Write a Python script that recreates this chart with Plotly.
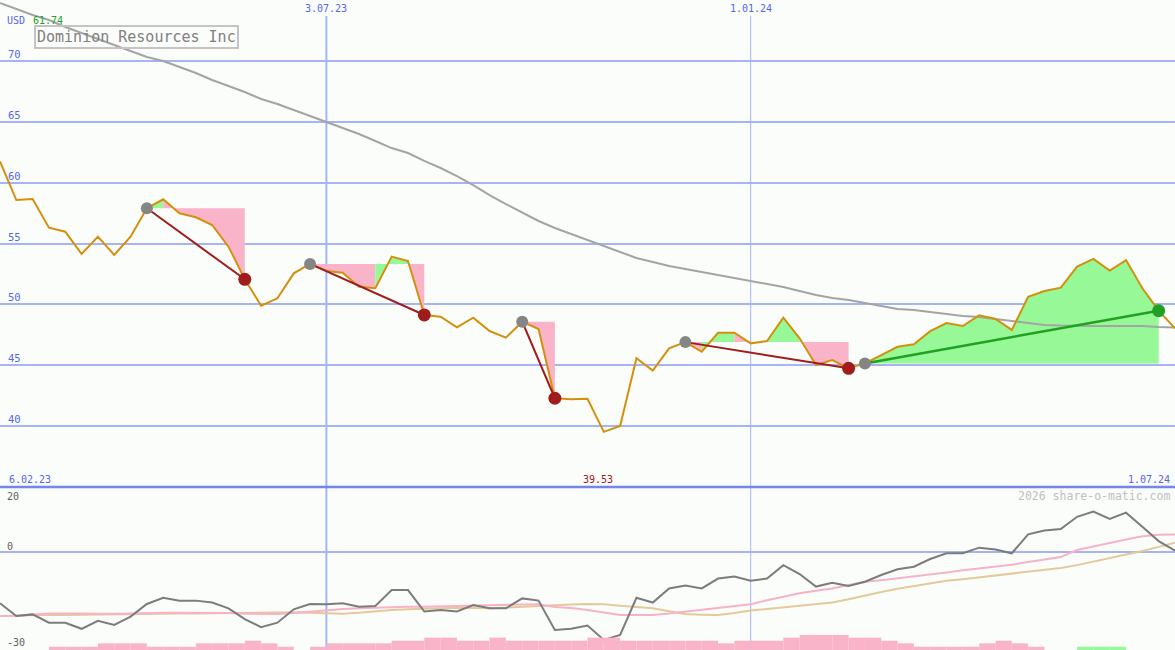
import pandas as pd
import plotly.graph_objects as go

# ---------------- data ----------------
start_date = "2023-02-13"
price = [61.74, 58.57, 58.65, 56.30, 55.97, 54.14, 55.56, 54.06, 55.56, 57.89,
         58.63, 57.48, 57.15, 56.52, 54.74, 52.06, 49.89, 50.50, 52.55, 53.32,
         52.74, 52.60, 51.45, 51.32, 53.92, 53.56, 49.13, 48.99, 48.12, 48.91,
         47.81, 47.27, 48.58, 47.98, 42.29, 42.20, 42.25, 39.53, 40.01, 45.57,
         44.56, 46.39, 46.90, 46.11, 47.67, 47.67, 46.80, 46.99, 48.91, 47.21,
         45.02, 45.43, 44.75, 45.15, 45.84, 46.52, 46.72, 47.80, 48.47, 48.22,
         49.10, 48.80, 47.90, 50.63, 51.10, 51.37, 53.10, 53.73, 52.77, 53.64,
         51.32, 49.48, 48.03]

ma_long = [74.75, 74.26, 73.77, 73.36, 72.78, 72.29, 71.80, 71.30, 70.81, 70.32,
           69.99, 69.50, 69.00, 68.43, 67.94, 67.44, 66.87, 66.46, 65.97, 65.47,
           64.98, 64.49, 63.99, 63.42, 62.84, 62.43, 61.78, 61.20, 60.54, 59.80,
           58.98, 58.24, 57.51, 56.85, 56.27, 55.78, 55.29, 54.79, 54.30, 53.81,
           53.48, 53.15, 52.91, 52.66, 52.41, 52.17, 51.92, 51.67, 51.43, 51.10,
           50.77, 50.52, 50.36, 50.11, 49.87, 49.62, 49.54, 49.37, 49.21, 49.05,
           48.96, 48.80, 48.63, 48.47, 48.31, 48.26, 48.22, 48.22, 48.22, 48.22,
           48.22, 48.14, 48.10]

osc = [-16.0, -20.0, -19.5, -22.1, -22.1, -24.0, -21.5, -22.8, -20.2, -16.25,
       -14.3, -15.2, -15.2, -15.8, -17.6, -21.0, -23.5, -22.1, -17.9, -16.25,
       -16.3, -16.0, -17.1, -16.9, -11.9, -11.9, -18.6, -18.1, -18.6, -16.6,
       -17.6, -17.6, -14.5, -15.2, -24.4, -24.0, -23.0, -27.5, -25.9, -14.3,
       -15.8, -11.4, -10.5, -11.4, -8.3, -7.7, -9.0, -8.3, -4.1, -6.9,
       -10.8, -9.6, -10.6, -9.3, -7.2, -5.4, -4.6, -2.2, -0.4, -0.4,
       1.35, 0.8, -0.4, 5.5, 6.7, 7.2, 11.0, 12.6, 10.3, 12.3,
       7.9, 3.4, 0.4]

osc_fast = [-20.0, -19.9, -19.5, -19.2, -19.2, -19.3, -19.4, -19.3, -19.2, -19.0,
            -19.0, -19.0, -19.0, -19.0, -19.1, -19.3, -19.4, -19.4, -19.1, -18.6,
            -18.2, -17.8, -17.6, -17.4, -17.2, -17.1, -17.1, -17.0, -16.95, -16.8,
            -16.6, -16.5, -16.35, -16.3, -17.2, -17.5, -18.1, -18.9, -19.7, -19.7,
            -19.7, -19.2, -18.6, -18.0, -17.3, -16.8, -16.3, -15.1, -14.0, -12.9,
            -12.1, -11.4, -10.3, -9.3, -8.8, -8.2, -7.7, -7.2, -6.4, -5.7,
            -5.2, -4.7, -4.0, -3.1, -2.4, -1.6, 0.6, 1.8, 2.8, 3.9,
            4.9, 5.4, 5.5]

osc_slow = [-20.0, -19.8, -19.6, -19.6, -19.7, -19.6, -19.5, -19.4, -19.4, -19.3,
            -19.3, -19.2, -19.2, -19.1, -19.0, -19.0, -19.0, -18.9, -18.8, -19.0,
            -19.2, -19.3, -19.0, -18.5, -18.1, -17.9, -17.7, -17.6, -17.4, -17.5,
            -17.6, -17.4, -17.1, -16.8, -16.6, -16.4, -16.25, -16.3, -16.8, -17.1,
            -17.6, -18.5, -19.4, -19.6, -19.7, -19.1, -18.3, -17.8, -17.3, -16.8,
            -16.3, -15.8, -14.8, -13.6, -12.5, -11.5, -10.7, -9.8, -9.0, -8.5,
            -7.9, -7.3, -6.6, -6.0, -5.5, -5.0, -4.1, -3.0, -2.0, -0.9,
            0.3, 1.6, 2.9]

# weekly bar heights (one per week interval)
vol_pink = [0, 0, 0, 1, 1, 1, 2.05, 2.05, 2.05, 1,
            1, 1, 2.05, 2.05, 2.05, 2.85, 2.05, 1, 0, 1,
            2.05, 2.05, 2.05, 2.05, 2.85, 2.85, 3.8, 3.8, 2.85, 2.85,
            3.8, 2.85, 2.85, 2.85, 2.85, 2.85, 3.8, 3.8, 2.85, 2.85,
            2.85, 2.85, 2.85, 2.85, 2.05, 2.85, 2.85, 2.85, 3.8, 4.6,
            4.6, 4.6, 3.8, 3.8, 2.85, 2.05, 1, 1, 1, 1,
            2.05, 2.85, 2.05, 1, 0, 0, 0, 0, 0, 0,
            0, 0]
vol_green = [0] * 66 + [1, 1, 1] + [0, 0, 0]

trade_entry = [9, 19, 32, 42, 53]
trade_exit = [15, 26, 34, 52, 71]

price_ticks = [40, 45, 50, 55, 60, 65, 70]
osc_ticks = [20, 0, -30]
vline_dates = ["2023-07-03", "2024-01-01"]
vline_labels = ["3.07.23", "1.01.24"]
vline_widths = [2, 1]
start_label = "6.02.23"
end_label = "1.07.24"
company = "Dominion Resources Inc"
currency = "USD"
credit = "2026 share-o-matic.com"

# ---------------- style ----------------
W, H = 1175, 650
BG = "#fbfdfb"
GRID = "#a6b4f4"
SEP = "#7484f0"
BLUE_TXT = "#5566ee"
PRICE_COL = "#d4900c"
MA_COL = "#a4a4a4"
PINK_FILL = "#f9b4c9"
GREEN_FILL = "#96f896"
LOSS_COL = "#a01c1c"
WIN_COL = "#22a022"
ENTRY_COL = "#858585"
FONT = "DejaVu Sans Mono"

dates = pd.date_range(start_date, periods=len(price), freq="7D")
SPLIT = 1 - 487 / H


def py(px):
    return 1 - px / H


def pxx(px):
    return px / W


fig = go.Figure()

# trade fills: runs of weekly segments coloured by whether the segment end
# is above (green) or below (pink) the entry level
for e, x_ in zip(trade_entry, trade_exit):
    level = price[e]
    k = e
    while k < x_:
        up = price[k + 1] > level
        j = k
        while j + 1 < x_ and (price[j + 2] > level) == up:
            j += 1
        idx = list(range(k, j + 2))
        xs = [dates[idx[0]]] + [dates[i] for i in idx] + [dates[idx[-1]]]
        ys = [level] + [price[i] for i in idx] + [level]
        fig.add_trace(go.Scatter(
            x=xs, y=ys, fill="toself", fillcolor=GREEN_FILL if up else PINK_FILL,
            mode="lines", line=dict(width=0, color="rgba(0,0,0,0)"),
            hoverinfo="skip", xaxis="x", yaxis="y"))
        k = j + 1

# long moving average
fig.add_trace(go.Scatter(x=dates, y=ma_long, mode="lines",
                         line=dict(color=MA_COL, width=2), xaxis="x", yaxis="y"))
# price
fig.add_trace(go.Scatter(x=dates, y=price, mode="lines",
                         line=dict(color=PRICE_COL, width=2), xaxis="x", yaxis="y"))

# trade lines and markers
for e, x_ in zip(trade_entry, trade_exit):
    win = price[x_] > price[e]
    col = WIN_COL if win else LOSS_COL
    fig.add_trace(go.Scatter(x=[dates[e], dates[x_]], y=[price[e], price[x_]],
                             mode="lines", line=dict(color=col, width=2.5 if win else 2),
                             xaxis="x", yaxis="y"))
for e, x_ in zip(trade_entry, trade_exit):
    win = price[x_] > price[e]
    col = WIN_COL if win else LOSS_COL
    fig.add_trace(go.Scatter(x=[dates[e]], y=[price[e]], mode="markers",
                             marker=dict(color=ENTRY_COL, size=12), xaxis="x", yaxis="y"))
    fig.add_trace(go.Scatter(x=[dates[x_]], y=[price[x_]], mode="markers",
                             marker=dict(color=col, size=13), xaxis="x", yaxis="y"))

# lower panel
fig.add_trace(go.Bar(x=dates[:-1], y=vol_pink, width=7 * 86400000, offset=0,
                     marker=dict(color=PINK_FILL, line=dict(width=0)),
                     xaxis="x2", yaxis="y3"))
fig.add_trace(go.Bar(x=dates[:-1], y=vol_green, width=7 * 86400000, offset=0,
                     marker=dict(color=GREEN_FILL, line=dict(width=0)),
                     xaxis="x2", yaxis="y3"))
fig.add_trace(go.Scatter(x=dates, y=osc_slow, mode="lines",
                         line=dict(color="#e2ca9a", width=2), xaxis="x2", yaxis="y2"))
fig.add_trace(go.Scatter(x=dates, y=osc_fast, mode="lines",
                         line=dict(color="#f8b2c8", width=2), xaxis="x2", yaxis="y2"))
fig.add_trace(go.Scatter(x=dates, y=osc, mode="lines",
                         line=dict(color="#7c7c7c", width=2), xaxis="x2", yaxis="y2"))

# ---------------- layout ----------------
xr = [dates[0], dates[-1]]
fig.update_layout(
    width=W, height=H, margin=dict(l=0, r=0, t=0, b=0),
    paper_bgcolor=BG, plot_bgcolor=BG, showlegend=False, barmode="overlay",
    xaxis=dict(range=xr, domain=[0, 1], anchor="y", visible=False),
    xaxis2=dict(range=xr, domain=[0, 1], anchor="y2", matches="x", visible=False),
    yaxis=dict(domain=[SPLIT, 1], range=[35, 75], anchor="x", tickvals=price_ticks,
               showticklabels=False, showgrid=True, gridcolor=GRID, gridwidth=2,
               zeroline=False, showline=False, ticks=""),
    yaxis2=dict(domain=[0, SPLIT], range=[-30.63, 20.31], anchor="x2", tickvals=[0],
                showticklabels=False, showgrid=True, gridcolor=GRID, gridwidth=2,
                zeroline=False, showline=False, ticks=""),
    yaxis3=dict(overlaying="y2", range=[0, 50], anchor="x2", visible=False),
)

shapes = []
for d, wdt in zip(vline_dates, vline_widths):
    shapes.append(dict(type="line", xref="x", yref="paper", x0=d, x1=d,
                       y0=0, y1=py(16), line=dict(color=GRID, width=wdt), layer="below"))
shapes.append(dict(type="line", xref="paper", yref="paper", x0=0, x1=1,
                   y0=SPLIT, y1=SPLIT, line=dict(color=SEP, width=2.5), layer="below"))
fig.update_layout(shapes=shapes)

ann = []
for v in price_ticks:
    ann.append(dict(x=pxx(6), y=v, xref="paper", yref="y", text=str(v), showarrow=False,
                    xanchor="left", yanchor="bottom", yshift=-1,
                    font=dict(family=FONT, size=10.5, color=BLUE_TXT)))
ann.append(dict(x=pxx(5), y=py(21), xref="paper", yref="paper", text=currency, showarrow=False,
                xanchor="left", yanchor="middle", font=dict(family=FONT, size=10, color=BLUE_TXT)))
ann.append(dict(x=pxx(31), y=py(21), xref="paper", yref="paper", text=f"{price[0]:.2f}",
                showarrow=False, xanchor="left", yanchor="middle",
                font=dict(family=FONT, size=10, color="#22a022")))
ann.append(dict(x=pxx(34), y=py(25), xref="paper", yref="paper", text=company, showarrow=False,
                xanchor="left", yanchor="top", bordercolor="#c4c4c4", borderwidth=2, borderpad=1,
                font=dict(family=FONT, size=15, color="#808080")))
for d, lab in zip(vline_dates, vline_labels):
    ann.append(dict(x=d, y=py(9), xref="x", yref="paper", text=lab, showarrow=False,
                    xanchor="center", yanchor="middle", font=dict(family=FONT, size=10, color=BLUE_TXT)))
ann.append(dict(x=pxx(7), y=py(479), xref="paper", yref="paper", text=start_label, showarrow=False,
                xanchor="left", yanchor="middle", font=dict(family=FONT, size=10, color=BLUE_TXT)))
ann.append(dict(x=pxx(1172), y=py(479), xref="paper", yref="paper", text=end_label, showarrow=False,
                xanchor="right", yanchor="middle", font=dict(family=FONT, size=10, color=BLUE_TXT)))
imin = price.index(min(price))
ann.append(dict(x=dates[imin], y=py(479), xref="x", yref="paper", text=f"{min(price):.2f}",
                showarrow=False, xanchor="center", yanchor="middle", xshift=-6,
                font=dict(family=FONT, size=10, color="#a02020")))
ann.append(dict(x=pxx(1172), y=py(496), xref="paper", yref="paper", text=credit, showarrow=False,
                xanchor="right", yanchor="middle", font=dict(family=FONT, size=11.5, color="#c0c0c0")))
osc_label_px = [496, 546, 642]
for v, ypx in zip(osc_ticks, osc_label_px):
    ann.append(dict(x=pxx(5), y=py(ypx), xref="paper", yref="paper", text=str(v), showarrow=False,
                    xanchor="left", yanchor="middle", font=dict(family=FONT, size=10, color="#606060")))
fig.update_layout(annotations=ann)

fig.write_html("out.html", config={"displayModeBar": False},
               post_script="document.body.style.margin='0';document.body.style.background='%s';" % BG)
